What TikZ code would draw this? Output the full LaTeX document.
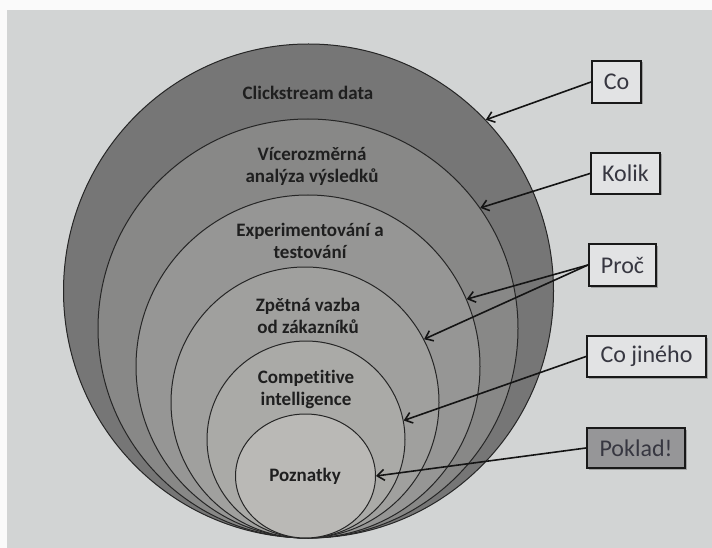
\documentclass[tikz,border=0pt]{standalone}
\usepackage{fontspec}
\setmainfont{Carlito}[Ligatures=NoCommon]
\usetikzlibrary{shapes.geometric,arrows.meta,shadows}
\definecolor{pagegray}{RGB}{210,212,212}
\definecolor{ringA}{RGB}{118,118,118}
\definecolor{ringB}{RGB}{136,136,135}
\definecolor{ringC}{RGB}{150,150,149}
\definecolor{ringD}{RGB}{160,160,158}
\definecolor{ringE}{RGB}{170,170,167}
\definecolor{ringF}{RGB}{186,185,182}
\definecolor{tagfill}{RGB}{226,227,228}
\definecolor{tagdark}{RGB}{150,150,152}
\definecolor{tagtext}{RGB}{55,55,65}
\begin{document}
\begin{tikzpicture}[x=1pt,y=-1pt,
  ring/.style={ellipse, draw=black!85, line width=1pt, inner sep=0pt},
  lbl/.style={font=\bfseries\fontsize{19}{22}\selectfont, text=black!88, align=center},
  tag/.style={draw=black!90, line width=2pt, fill=tagfill, text=tagtext,
    font=\fontsize{24}{28}\selectfont, inner sep=0pt,
    drop shadow={shadow xshift=1.5pt, shadow yshift=-1.5pt, fill=black!50, opacity=0.6}},
  arr/.style={-{Straight Barb[length=7pt,width=11pt]}, line width=1.6pt, draw=black!92}]
\useasboundingbox (0,0) rectangle (712,548);
\fill[white!96!gray] (0,0) rectangle (712,548);
\fill[pagegray] (7,10) rectangle (712,548);
% nested rings
\node[ring, fill=ringA, minimum width=490pt, minimum height=494pt] (c1) at (308.5,291) {};
\node[ring, fill=ringB, minimum width=420pt, minimum height=419pt] (c2) at (308,328.5) {};
\node[ring, fill=ringC, minimum width=344pt, minimum height=343pt] (c3) at (308,366.5) {};
\node[ring, fill=ringD, minimum width=268pt, minimum height=271pt] (c4) at (305,402.5) {};
\node[ring, fill=ringE, minimum width=198pt, minimum height=197pt] (c5) at (306,439.5) {};
\node[ring, fill=ringF, minimum width=140pt, minimum height=124pt] (c6) at (305.5,476) {};
% ring labels
\node[lbl] (t1) at (308,93) {Clickstream data};
\node[lbl] (t2) at (312,166) {Vícerozměrná\\analýza výsledků};
\node[lbl] (t3) at (310,241) {Experimentování a\\testování};
\node[lbl] (t4) at (308,316) {Zpětná vazba\\od zákazníků};
\node[lbl] (t5) at (306,389) {Competitive\\intelligence};
\node[lbl] (t6) at (305,476) {Poznatky};
% tags
\node[tag, minimum width=49pt, minimum height=42pt] (co) at (616.5,82) {Co};
\node[tag, minimum width=69pt, minimum height=41pt] (kolik) at (625.5,173.5) {Kolik};
\node[tag, minimum width=67pt, minimum height=42pt] (proc) at (622.5,265) {Proč};
\node[tag, minimum width=119pt, minimum height=41pt] (jine) at (646.5,356.5) {Co jiného};
\node[tag, fill=tagdark, minimum width=98pt, minimum height=40pt] (poklad) at (636,448) {Poklad!};
% arrows
\draw[arr] (co.west) -- (c1.44);
\draw[arr] (kolik.west) -- (c2.35);
\draw[arr] (proc.west) -- (c3.23);
\draw[arr] (proc.west) -- (c4.28);
\draw[arr] (jine.west) -- (c5.11);
\draw[arr] (poklad.west) -- (c6.0);
\end{tikzpicture}
\end{document}
